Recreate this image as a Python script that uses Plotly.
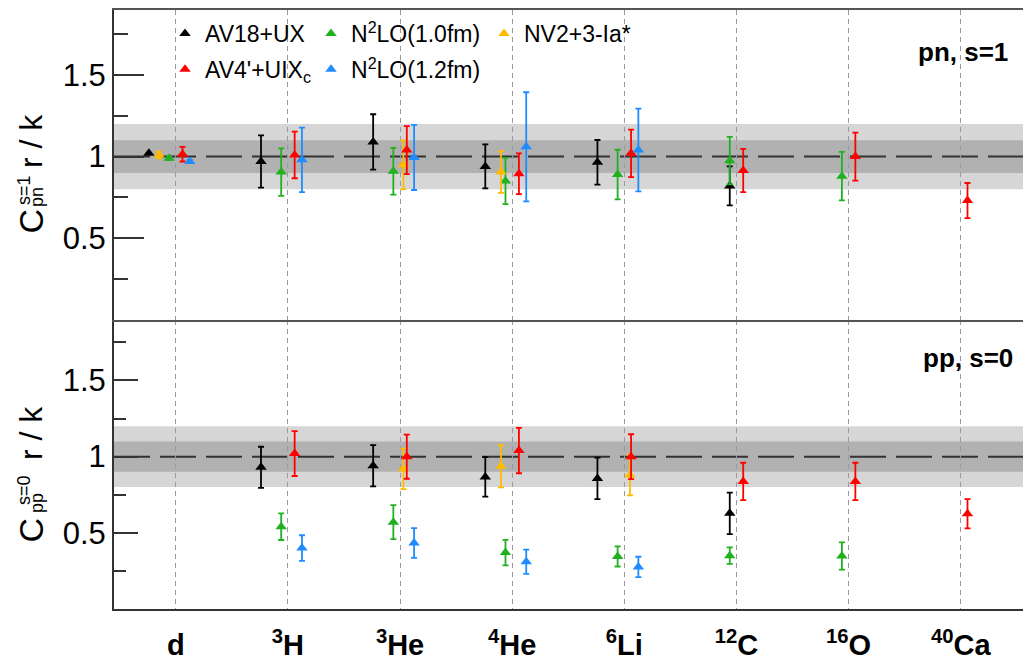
import plotly.graph_objects as go

# ---------------- data ----------------
nuclei = ["d", "<sup>3</sup>H", "<sup>3</sup>He", "<sup>4</sup>He", "<sup>6</sup>Li",
          "<sup>12</sup>C", "<sup>16</sup>O", "<sup>40</sup>Ca"]
nucleus_index = [1, 2, 3, 4, 5, 6, 7, 8]

series_names = ["AV18+UX", "N<sup>2</sup>LO(1.0fm)", "NV2+3-Ia*", "AV4'+UIX<sub>c</sub>", "N<sup>2</sup>LO(1.2fm)"]

# pn, s=1 (top panel)
pn_av18 = [1.02, 0.97, 1.09, 0.94, 0.965, 0.82, None, None]
pn_av18_err = [0.0, 0.16, 0.17, 0.135, 0.137, 0.12, None, None]
pn_n2lo10 = [0.99, 0.905, 0.91, 0.85, 0.89, 0.975, 0.88, None]
pn_n2lo10_err = [0.01, 0.146, 0.144, 0.142, 0.152, 0.146, 0.149, None]
pn_nv2 = [1.01, None, 0.95, 0.905, None, None, None, None]
pn_nv2_err = [0.02, None, 0.15, 0.128, None, None, None, None]
pn_av4 = [1.015, 1.01, 1.04, 0.895, 1.02, 0.915, 1.0, 0.73]
pn_av4_err = [0.045, 0.143, 0.147, 0.125, 0.146, 0.133, 0.147, 0.108]
pn_n2lo12 = [0.97, 0.98, 0.995, 1.06, 1.04, None, None, None]
pn_n2lo12_err = [0.01, 0.198, 0.2, 0.335, 0.254, None, None, None]

# pp, s=0 (bottom panel)
pp_av18 = [None, 0.93, 0.94, 0.867, 0.857, 0.628, None, None]
pp_av18_err = [None, 0.135, 0.135, 0.13, 0.136, 0.136, None, None]
pp_n2lo10 = [None, 0.54, 0.57, 0.37, 0.345, 0.35, 0.348, None]
pp_n2lo10_err = [None, 0.087, 0.112, 0.084, 0.066, 0.054, 0.089, None]
pp_nv2 = [None, None, 0.92, 0.937, 0.88, None, None, None]
pp_nv2_err = [None, None, 0.133, 0.139, 0.134, None, None, None]
pp_av4 = [None, 1.02, 1.0, 1.04, 1.0, 0.837, 0.837, 0.625]
pp_av4_err = [None, 0.147, 0.145, 0.149, 0.147, 0.123, 0.123, 0.096]
pp_n2lo12 = [None, 0.40, 0.433, 0.31, 0.276, None, None, None]
pp_n2lo12_err = [None, 0.084, 0.098, 0.08, 0.067, None, None, None]

# horizontal staggering of the series inside each nucleus column (category units)
off_av18 = [-0.24, -0.24, -0.24, -0.24, -0.24, -0.06, -0.24, -0.24]
off_n2lo10 = [-0.06] * 8
off_nv2 = [-0.15, 0.0, 0.03, -0.1, 0.05, 0.0, 0.0, 0.0]
off_av4 = [0.06] * 8
off_n2lo12 = [0.125] * 8

colors = ["#000000", "#1fb11f", "#ffbb00", "#ff0000", "#1e8cff"]
legend_of = ["legend", "legend2", "legend3", "legend", "legend2"]

top_sets = [(pn_av18, pn_av18_err), (pn_n2lo10, pn_n2lo10_err), (pn_nv2, pn_nv2_err),
            (pn_av4, pn_av4_err), (pn_n2lo12, pn_n2lo12_err)]
bot_sets = [(pp_av18, pp_av18_err), (pp_n2lo10, pp_n2lo10_err), (pp_nv2, pp_nv2_err),
            (pp_av4, pp_av4_err), (pp_n2lo12, pp_n2lo12_err)]
offsets = [off_av18, off_n2lo10, off_nv2, off_av4, off_n2lo12]

FONT = "Liberation Sans, Arial, sans-serif"

W, H = 1023, 662
L, R, T, B = 114, 0, 10, 53
PW, PH = W - L - R, H - T - B


def px(x):
    return (x - L) / PW


def py(y):
    return (H - B - y) / PH


fig = go.Figure()

for panel, sets, yname, xname in [("top", top_sets, "y2", "x2"), ("bot", bot_sets, "y", "x")]:
    for i, (vals, errs) in enumerate(sets):
        xs, ys, es = [], [], []
        for k, v in enumerate(vals):
            if v is None:
                continue
            xs.append(nucleus_index[k] + offsets[i][k])
            ys.append(v)
            es.append(errs[k])
        fig.add_trace(go.Scatter(
            x=xs, y=ys, mode="markers",
            xaxis=xname, yaxis=yname,
            name=series_names[i],
            legendgroup="g%d" % i,
            marker=dict(symbol="triangle-up", size=10, color=colors[i]),
            error_y=dict(type="data", array=es, visible=True, color=colors[i],
                         thickness=1.8, width=3),
            showlegend=(panel == "top"),
            legend=legend_of[i],
        ))

# ---------------- shapes ----------------
shapes = []
for yr in ["y", "y2"]:
    shapes.append(dict(type="rect", xref="paper", yref=yr, x0=0, x1=1, y0=0.8, y1=1.2,
                       fillcolor="#d6d6d6", line=dict(width=0), layer="below"))
    shapes.append(dict(type="rect", xref="paper", yref=yr, x0=0, x1=1, y0=0.9, y1=1.1,
                       fillcolor="#b1b1b1", line=dict(width=0), layer="below"))
    shapes.append(dict(type="line", xref="paper", yref=yr, x0=0, x1=1, y0=1, y1=1,
                       line=dict(color="#333333", width=2, dash="36px,10px"), layer="between"))
# white legend background box
shapes.append(dict(type="rect", xref="paper", yref="paper", x0=px(160), x1=px(642),
                   y0=py(86), y1=1, fillcolor="white", line=dict(width=0), layer="between"))

# ---------------- annotations ----------------
ann = []
# panel labels
ann.append(dict(text="<b>pn, s=1</b>", xref="paper", yref="paper", x=px(1010), y=py(52),
                xanchor="right", yanchor="middle", showarrow=False,
                font=dict(family=FONT, size=26, color="black")))
ann.append(dict(text="<b>pp, s=0</b>", xref="paper", yref="paper", x=px(1015), y=py(358),
                xanchor="right", yanchor="middle", showarrow=False,
                font=dict(family=FONT, size=26, color="black")))


def ytitle(parts):
    for text, cx, cy, size in parts:
        ann.append(dict(text=text, xref="paper", yref="paper", x=px(cx), y=py(cy),
                        xanchor="center", yanchor="middle", textangle=-90, showarrow=False,
                        font=dict(family=FONT, size=size, color="black")))


ytitle([("C", 30.5, 221, 34), ("s=1", 24, 190, 18), ("pn", 37, 197, 18), ("r / k", 31, 141, 32)])
ytitle([("C", 30.5, 530, 34), ("s=0", 24, 490, 18), ("pp", 37, 503, 18), ("r / k", 31, 433, 32)])

# ---------------- layout ----------------
xrange = [0.449, 8.555]
grid = dict(showgrid=True, gridcolor="#9a9a9a", gridwidth=1.4, griddash="5px,4px",
            tickvals=nucleus_index, range=xrange, zeroline=False, ticks="")

yfont = dict(family=FONT, size=31, color="black")
lfont = dict(family=FONT, size=23, color="black")

fig.update_layout(
    width=W, height=H,
    margin=dict(l=L, r=R, t=T, b=B, pad=0),
    paper_bgcolor="white", plot_bgcolor="white",
    font=dict(family=FONT, color="black"),
    xaxis=dict(**grid, anchor="y", ticktext=nuclei, showline=True, linecolor="#333333", linewidth=2,
               tickfont=dict(family=FONT, size=29, color="black", weight="bold"),
               ticklabelstandoff=9),
    xaxis2=dict(**grid, anchor="y2", matches="x", showticklabels=False, showline=True,
                mirror=True, linecolor="#555555", linewidth=2),
    yaxis=dict(domain=[0, py(319.5)], range=[0, 1.9], showgrid=False, zeroline=False,
               tickvals=[0.5, 1, 1.5], ticktext=["0.5", "1", "1.5"], ticks="inside",
               ticklen=24, tickwidth=2, tickcolor="#333333",
               minor=dict(tickvals=[0.25, 0.75, 1.25, 1.75], ticks="inside", ticklen=12,
                          tickwidth=2, tickcolor="#333333"),
               showline=True, linecolor="#333333", linewidth=2,
               tickfont=yfont, ticklabelstandoff=0),
    yaxis2=dict(domain=[py(319.5), 1], range=[0, 1.9], showgrid=False, zeroline=False,
                tickvals=[0.5, 1, 1.5], ticktext=["0.5", "1", "1.5"], ticks="inside",
                ticklen=30, tickwidth=2, tickcolor="#333333",
                minor=dict(tickvals=[0.25, 0.75, 1.25, 1.75], ticks="inside", ticklen=14,
                           tickwidth=2, tickcolor="#333333"),
                showline=True, linecolor="#333333", linewidth=2,
                tickfont=yfont, ticklabelstandoff=0),
    shapes=shapes,
    annotations=ann,
    legend=dict(x=px(165), y=py(12), xanchor="left", yanchor="top", bgcolor="rgba(0,0,0,0)",
                font=lfont, tracegroupgap=3, itemwidth=30),
    legend2=dict(x=px(311), y=py(12), xanchor="left", yanchor="top", bgcolor="rgba(0,0,0,0)",
                 font=lfont, tracegroupgap=3, itemwidth=30),
    legend3=dict(x=px(484), y=py(12), xanchor="left", yanchor="top", bgcolor="rgba(0,0,0,0)",
                 font=lfont, tracegroupgap=3, itemwidth=30),
    showlegend=True,
)

fig.write_html("out.html")
